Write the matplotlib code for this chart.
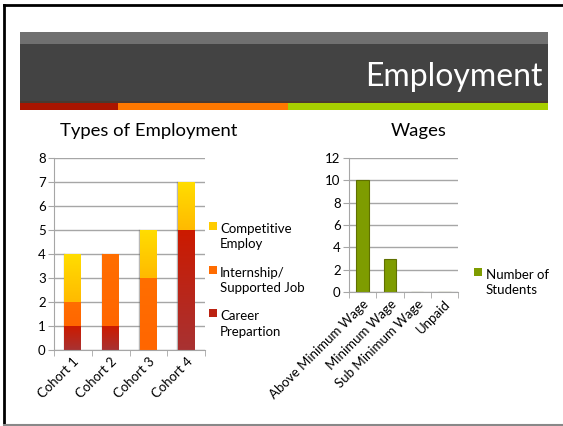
import matplotlib
matplotlib.use("Agg")
import matplotlib.pyplot as plt
import numpy as np
from matplotlib.patches import Rectangle
from matplotlib.lines import Line2D
from matplotlib.colors import LinearSegmentedColormap

plt.rcParams['font.family'] = ['Lato', 'DejaVu Sans']

cohorts = ["Cohort 1", "Cohort 2", "Cohort 3", "Cohort 4"]
career = [1, 1, 0, 5]
internship = [1, 3, 3, 0]
competitive = [2, 0, 2, 2]
series_labels = ["Career\nPrepartion", "Internship/\nSupported Job", "Competitive\nEmploy"]

wage_cats = ["Above Minimum Wage", "Minimum Wage", "Sub Minimum Wage", "Unpaid"]
wage_students = [10, 3, 0, 0]

W, H = 563, 426
fig = plt.figure(figsize=(W / 100, H / 100), dpi=100)

def px(x0, y0, x1, y1):
    return [x0 / W, 1 - y1 / H, (x1 - x0) / W, (y1 - y0) / H]

# slide frame
fig.add_artist(Line2D([3.5 / W, 3.5 / W], [1 - 4.5 / H, 1 - 425.5 / H], color='black', lw=2, transform=fig.transFigure))
fig.add_artist(Line2D([3.5 / W, 1], [1 - 4.5 / H, 1 - 4.5 / H], color='black', lw=2, transform=fig.transFigure))
fig.add_artist(Line2D([3.5 / W, 1], [1 - 425 / H, 1 - 425 / H], color='#888888', lw=1.5, transform=fig.transFigure))

def rect(x0, y0, x1, y1, c):
    fig.add_artist(Rectangle((x0 / W, 1 - y1 / H), (x1 - x0) / W, (y1 - y0) / H,
                             transform=fig.transFigure, color=c, lw=0))
rect(20, 32, 548, 44, '#707070')
rect(20, 44, 548, 101, '#434343')
rect(20, 101, 118, 110, '#AA1500')
rect(118, 101, 288, 110, '#FF7800')
rect(288, 101, 548, 110, '#A8CF00')
rect(20, 101, 548, 102.5, '#4a3a30')
fig.text(543 / W, 1 - 77 / H, "Employment", color='white', fontsize=23, ha='right', va='center')

grid_c = '#A6A6A6'

def style(ax):
    for s in ['top', 'right']:
        ax.spines[s].set_visible(False)
    for s in ['left', 'bottom']:
        ax.spines[s].set_color(grid_c)
    ax.yaxis.grid(True, color=grid_c, lw=1)
    ax.set_axisbelow(True)
    ax.tick_params(axis='y', length=4, color=grid_c, labelsize=9.5, pad=2)
    ax.tick_params(axis='x', which='minor', length=4, color=grid_c, direction='out')
    ax.tick_params(axis='x', which='major', length=0, labelsize=9.5, pad=4)

def gradient(ax, bars, top, bottom):
    cmap = LinearSegmentedColormap.from_list('g', [bottom, top])
    grad = np.linspace(0, 1, 64).reshape(-1, 1)
    for b in bars:
        x0, y0 = b.get_x(), b.get_y()
        w, h = b.get_width(), b.get_height()
        if h <= 0:
            continue
        im = ax.imshow(grad, cmap=cmap, extent=(x0, x0 + w, y0, y0 + h), origin='lower',
                       aspect='auto', zorder=b.get_zorder() + 0.1, interpolation='bilinear')
        im.set_clip_path(b)
        ax.add_artist(Line2D([x0 - 0.015, x0 - 0.015], [y0, y0 + h], color='#707070', lw=1, alpha=0.5,
                             zorder=b.get_zorder()))

# Left chart
ax1 = fig.add_axes(px(54, 158, 205, 350))
x = np.arange(len(cohorts))
bw = 0.45
b1 = ax1.bar(x, career, bw, color='#C0220F')
b2 = ax1.bar(x, internship, bw, bottom=career, color='#FF6C00')
bot2 = [a + b for a, b in zip(career, internship)]
b3 = ax1.bar(x, competitive, bw, bottom=bot2, color='#FFD000')
gradient(ax1, b1, '#CC1A00', '#A83232')
gradient(ax1, b2, '#FF6E00', '#FF6600')
gradient(ax1, b3, '#FFDD00', '#FFBA00')
ax1.set_xlim(-0.5, 3.5)
ax1.set_ylim(0, 8)
ax1.set_yticks(range(0, 9))
ax1.set_xticks(x)
ax1.set_xticks([-0.5, 0.5, 1.5, 2.5, 3.5], minor=True)
ax1.set_xticklabels(cohorts, rotation=45, ha='right', rotation_mode='anchor')
style(ax1)
fig.text(149 / W, 1 - 131 / H, "Types of Employment", fontsize=13.3, ha='center', va='center')

# manual legend (squares aligned to first text line)
leg_items = [('#FFCC00', series_labels[2], 226), ('#FF6C00', series_labels[1], 270),
             ('#BB2211', series_labels[0], 313)]
for c, lab, yc in leg_items:
    rect(209, yc - 4, 217, yc + 4, c)
    fig.text(220 / W, 1 - (yc - 3) / H, lab, fontsize=9.5, ha='left', va='top', linespacing=1.35)

# Right chart
ax2 = fig.add_axes(px(349, 158, 458, 292))
x2 = np.arange(len(wage_cats))
b4 = ax2.bar(x2, wage_students, bw, color='#7E9C00', edgecolor='#5f7000', lw=0.8)
ax2.set_xlim(-0.5, 3.5)
ax2.set_ylim(0, 12)
ax2.set_yticks(range(0, 13, 2))
ax2.set_xticks(x2)
ax2.set_xticks([-0.5, 0.5, 1.5, 2.5, 3.5], minor=True)
ax2.set_xticklabels(wage_cats, rotation=45, ha='right', rotation_mode='anchor')
style(ax2)
fig.text(419 / W, 1 - 131 / H, "Wages", fontsize=13.3, ha='center', va='center')
rect(474, 268, 482, 276, '#7E9C00')
fig.text(486 / W, 1 - 269 / H, "Number of\nStudents", fontsize=9.5, ha='left', va='top', linespacing=1.35)

fig.savefig("out.png", dpi=100)
